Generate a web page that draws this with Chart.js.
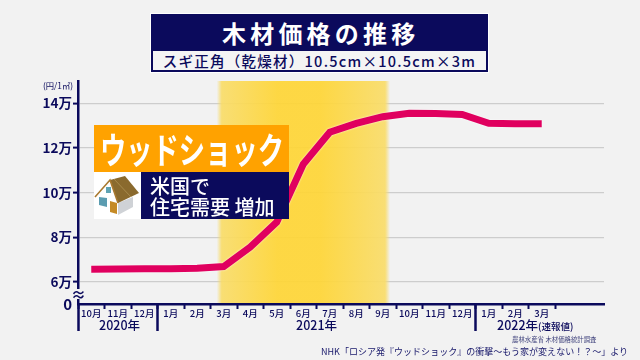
<!DOCTYPE html>
<html lang="ja">
<head>
<meta charset="utf-8">
<script src="https://cdn.jsdelivr.net/npm/chart.js@4/dist/chart.umd.min.js"></script>
<style>
html,body{margin:0;padding:0;background:#f2f2f2;}
#wrap{position:relative;width:640px;height:360px;overflow:hidden;background:#f2f2f2;font-family:"Noto Sans CJK JP","Noto Sans",sans-serif;color:#0b0a5c;}
canvas{position:absolute;left:0;top:0;}
.abs{position:absolute;white-space:nowrap;}
#titleBox{left:151px;top:14px;width:337px;height:58px;background:#0b0a5c;outline:1px solid #fff;}
#title{left:71px;top:5px;color:#fff;font-size:24px;font-weight:700;line-height:28px;letter-spacing:4.2px;}
#subtitle{left:2px;top:37px;width:333px;height:19px;background:#f4f4f4;text-align:center;color:#0b0a5c;font-size:14.5px;font-weight:500;line-height:19px;letter-spacing:1.25px;}
#wood{left:94px;top:125px;width:195px;height:47px;background:#ffa200;}
#wood span{position:absolute;left:6px;top:0;color:#fff;font-size:36px;font-weight:700;line-height:46px;transform:scaleX(.73);transform-origin:0 0;letter-spacing:0;}
#houseBox{left:94px;top:172px;width:47px;height:47px;background:#fff;}
#need{left:141px;top:172px;width:148px;height:47px;background:#0b0a5c;color:#fff;font-size:20px;line-height:21px;font-weight:500;padding-top:0;}
#need div{padding-left:9px;white-space:pre;position:relative;top:3px;}
.yr{font-size:12.5px;line-height:14px;top:318px;font-weight:500;}
.yr small{font-size:9.5px;}
#unit{left:43px;top:79px;font-size:8.3px;line-height:12px;}
#brk{left:71px;top:289px;width:14px;height:10px;background:#f2f2f2;text-align:center;font-size:15px;line-height:10px;font-weight:700;}
#src{left:512px;top:335px;font-size:6.4px;line-height:10px;color:#3c3f7a;}
#nhk{left:321px;top:345px;font-size:9px;line-height:14px;color:#17176a;letter-spacing:.02px;}
</style>
</head>
<body>
<div id="wrap">
<canvas id="c" width="640" height="360"></canvas>
<div class="abs" id="titleBox">
  <div class="abs" id="title"></div>
  <div class="abs" id="subtitle"></div>
</div>
<div class="abs" id="unit"></div>
<div class="abs" id="brk">≈</div>
<div class="abs" id="wood"><span id="woodT"></span></div>
<div class="abs" id="houseBox">
<svg width="47" height="47" viewBox="0 0 47 47">
  <polygon points="3,25 16,9 24,31 24,43 4,38" fill="#ffffff"/>
  <polygon points="24,31 24,43 39,35 39,25" fill="#cfd2d6"/>
  <polygon points="16,8 31,4 45,21 24,31" fill="#8a6a2e"/>
  <polyline points="20,7 37,25" fill="none" stroke="#a88a4c" stroke-width="1"/>
  <polyline points="1,25 16,8 24,31" fill="none" stroke="#a9792f" stroke-width="1.6"/>
  <rect x="12" y="15" width="5" height="6" fill="#5fa3b3"/>
  <polygon points="5,25 13,26 13,35 5,33" fill="#5b9cb0"/>
  <polygon points="16,29 23,31 23,42 16,40" fill="#c58a25"/>
</svg>
</div>
<div class="abs" id="need"></div>
<div class="abs yr" id="y0"></div>
<div class="abs yr" id="y1"></div>
<div class="abs yr" id="y2"></div>
<div class="abs" id="src"></div>
<div class="abs" id="nhk"></div>
</div>
<script>
const titleText = "木材価格の推移";
const subtitleText = "スギ正角（乾燥材）10.5cm×10.5cm×3m";
const woodText = "ウッドショック";
const needLines = ["米国で", "住宅需要 増加"];
const unitText = "(円/1㎥)";
const sourceText = "農林水産省 木材価格統計調査";
const nhkText = "NHK「ロシア発『ウッドショック』の衝撃〜もう家が変えない！？〜」より";

const months = ["10月","11月","12月","1月","2月","3月","4月","5月","6月","7月","8月","9月","10月","11月","12月","1月","2月","3月"];
const prices = [6.56,6.57,6.58,6.58,6.6,6.68,7.55,8.67,11.27,12.7,13.1,13.4,13.55,13.54,13.5,13.1,13.08,13.08];
const yearLabels = ["2020年","2021年","2022年"];
const yearNote = "(速報値)";
const yearStarts = [0,3,15];
const yTicks = [5,6,8,10,12,14];
const zeroTick = 5;
const bandRange = [5.0,11.05];
const navy = "#0b0a5c";

const setText=(id,t)=>{document.getElementById(id).textContent=t;};
setText("title",titleText);setText("subtitle",subtitleText);setText("woodT",woodText);
setText("unit",unitText);setText("src",sourceText);setText("nhk",nhkText);
document.getElementById("need").innerHTML=needLines.map(l=>"<div>"+l+"</div>").join("");

const decor = {
  id:"decor",
  beforeDatasetsDraw(chart){
    const {ctx,chartArea:a,scales:{x}}=chart;
    const l=x.getPixelForValue(bandRange[0])-7, r=x.getPixelForValue(bandRange[1])+6;
    const w=r-l, g=ctx.createLinearGradient(l,0,r,0);
    const f=5/w;
    g.addColorStop(0,"rgba(248,220,110,0)");
    g.addColorStop(f,"#f8dc6c");
    g.addColorStop(.35,"#fdd53a");
    g.addColorStop(.6,"#fdd53a");
    g.addColorStop(1-f,"#f8dc6c");
    g.addColorStop(1,"rgba(248,220,110,0)");
    ctx.save();ctx.globalAlpha=.95;ctx.fillStyle=g;ctx.fillRect(l,a.top,w,a.bottom-a.top-1);
    ctx.restore();
  },
  beforeDatasetDraw(chart){
    const c=chart.ctx;c.save();c.shadowColor="rgba(255,255,255,.9)";c.shadowBlur=2;
  },
  afterDatasetDraw(chart){chart.ctx.restore();},
  afterDraw(chart){
    const {ctx,chartArea:a,scales:{x}}=chart;
    ctx.save();ctx.strokeStyle=navy;
    ctx.lineWidth=2;
    for(let i=0;i<=months.length;i++){
      const p=Math.round(x.getPixelForValue(i-.5))+.5;
      ctx.beginPath();ctx.moveTo(p,a.bottom);ctx.lineTo(p,a.bottom+5);ctx.stroke();
    }
    ctx.lineWidth=2.5;
    yearStarts.forEach(s=>{
      const p=Math.round(x.getPixelForValue(s-.5))+.5;
      ctx.beginPath();ctx.moveTo(p,a.bottom);ctx.lineTo(p,331);ctx.stroke();
    });
    ctx.restore();
  }
};

const chart = new Chart(document.getElementById("c"),{
  type:"line",
  data:{labels:months,datasets:[{
    label:"スギ正角（乾燥材）",
    data:prices.map((y,i)=>({x:i,y})),
    borderColor:"#e0005f",borderWidth:7,pointRadius:0,tension:0,
    borderCapStyle:"butt",borderJoinStyle:"miter",fill:false
  }]},
  options:{
    responsive:false,animation:false,
    layout:{padding:{top:81,right:36,left:0,bottom:0}},
    plugins:{legend:{display:false},tooltip:{enabled:false},title:{display:false}},
    scales:{
      x:{type:"linear",min:-.5,max:19.35,bounds:"data",
        afterBuildTicks(s){s.ticks=months.map((_,i)=>({value:i}));},
        afterFit(s){s.height=56;},
        grid:{display:true,drawOnChartArea:false,drawTicks:false,color:"rgba(0,0,0,0)",tickLength:0},
        border:{color:navy,width:2.5},
        ticks:{autoSkip:false,maxRotation:0,padding:4,color:navy,
          font:{family:'"Noto Sans CJK JP"',size:9.5,weight:"500"},
          callback:(v)=>months[Math.round(v)]}
      },
      y:{type:"linear",min:5,max:15,bounds:"data",
        afterBuildTicks(s){s.ticks=yTicks.map(v=>({value:v}));},
        afterFit(s){s.width=78;},
        grid:{color:c=>c.tick&&c.tick.value===zeroTick?"rgba(0,0,0,0)":"#cdcdcd",
              tickColor:c=>c.tick&&c.tick.value===zeroTick?"rgba(0,0,0,0)":navy,
              tickLength:5,tickWidth:2,lineWidth:1.2},
        border:{color:navy,width:2.5},
        ticks:{padding:1,color:navy,
          font:c=>({family:'"Noto Sans CJK JP"',size:c.tick&&c.tick.value===zeroTick?15:13.5,weight:"700"}),
          callback:v=>v===zeroTick?"0":v+"万"}
      }
    }
  },
  plugins:[decor]
});

const place=(id,text,left)=>{const e=document.getElementById(id);e.textContent=text;e.style.left=left+"px";};
place("y0",yearLabels[0],99);
place("y1",yearLabels[1],296);
place("y2",yearLabels[2],497);
const note=document.createElement("small");note.textContent=yearNote;document.getElementById("y2").appendChild(note);
</script>
</body>
</html>
